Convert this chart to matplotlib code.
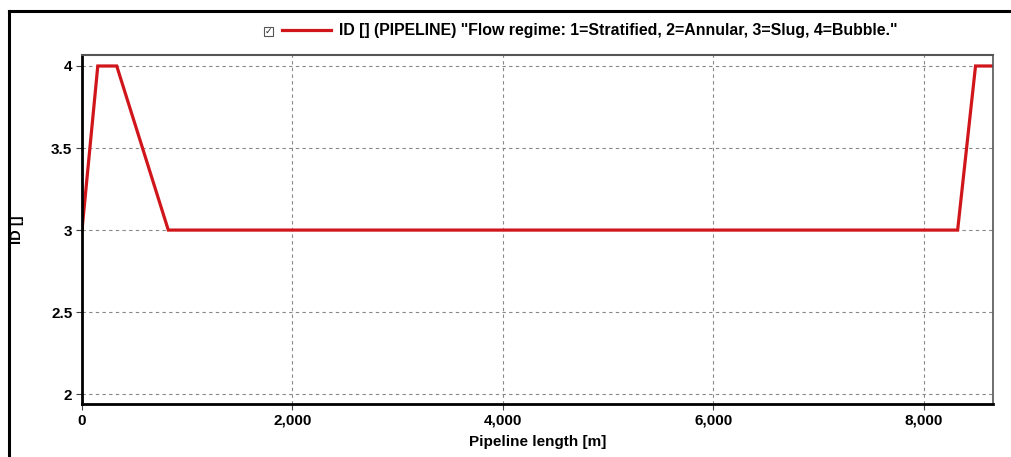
import matplotlib.pyplot as plt
from matplotlib.lines import Line2D
from matplotlib.patches import Rectangle
from matplotlib.ticker import FuncFormatter

# flow regime profile along the pipeline
length_m = [0, 150, 330, 820, 8320, 8490, 8660]
regime = [3, 4, 4, 3, 3, 4, 4]

x_ticks = [0, 2000, 4000, 6000, 8000]
y_ticks = [2, 2.5, 3, 3.5, 4]
series_label = 'ID [] (PIPELINE) "Flow regime: 1=Stratified, 2=Annular, 3=Slug, 4=Bubble."'

plt.rcParams['font.family'] = ['Liberation Sans', 'DejaVu Sans']
plt.rcParams['font.weight'] = 'bold'

red = '#d0161b'

fig = plt.figure(figsize=(10.11, 4.57), dpi=100)
ax = fig.add_axes([82 / 1011, 1 - 404 / 457, (993 - 82) / 1011, (404 - 55) / 457])

ax.plot(length_m, regime, color=red, lw=2.3, solid_joinstyle='miter', label=series_label)

ax.set_xlim(0, 8656)
ax.set_ylim(1.94, 4.067)
ax.set_xticks(x_ticks)
ax.set_yticks(y_ticks)
ax.xaxis.set_major_formatter(FuncFormatter(lambda v, p: '{:,.0f}'.format(v)))
ax.yaxis.set_major_formatter(FuncFormatter(lambda v, p: '{:g}'.format(v)))
ax.tick_params(labelsize=11, length=4, width=0.8, color='#444444', pad=3)
for lab in ax.get_xticklabels() + ax.get_yticklabels():
    lab.set_fontweight('bold')

ax.grid(True, color='#888888', linestyle=(0, (3, 3)), linewidth=0.8)

ax.spines['left'].set_linewidth(2)
ax.spines['bottom'].set_linewidth(2)
ax.spines['left'].set_color('black')
ax.spines['bottom'].set_color('black')
ax.spines['top'].set_color('#555555')
ax.spines['right'].set_color('#555555')
ax.spines['top'].set_linewidth(1.5)
ax.spines['right'].set_linewidth(1.2)

ax.set_xlabel('Pipeline length [m]', fontsize=11, fontweight='bold', labelpad=5)
ax.set_ylabel('ID []', fontsize=10.5, fontweight='bold')
ax.yaxis.set_label_coords(-58 / 911, 0.5)

leg = ax.legend(loc='center left', bbox_to_anchor=(282 / 1011, 1 - 31 / 457),
                bbox_transform=fig.transFigure, frameon=False, handlelength=3.1,
                handletextpad=0.5, borderpad=0, borderaxespad=0,
                prop={'size': 11.4, 'weight': 'bold'})

# checkbox in front of the legend entry
fig.add_artist(Rectangle((264 / 1011, 1 - 36 / 457), 9 / 1011, 9 / 457,
                         transform=fig.transFigure, fill=False, ec='#555555', lw=0.8))
fig.text(268.5 / 1011, 1 - 31.5 / 457, '\u2713', fontsize=6.5, family='DejaVu Sans',
         ha='center', va='center', color='#222222')

# outer frame (top and left edges)
fig.add_artist(Line2D([8.5 / 1011, 8.5 / 1011], [0, 1 - 10.5 / 457],
                      transform=fig.transFigure, color='black', lw=2.2))
fig.add_artist(Line2D([8.5 / 1011, 1], [1 - 10.5 / 457, 1 - 10.5 / 457],
                      transform=fig.transFigure, color='black', lw=2.2))

fig.savefig('out.png', dpi=100)
